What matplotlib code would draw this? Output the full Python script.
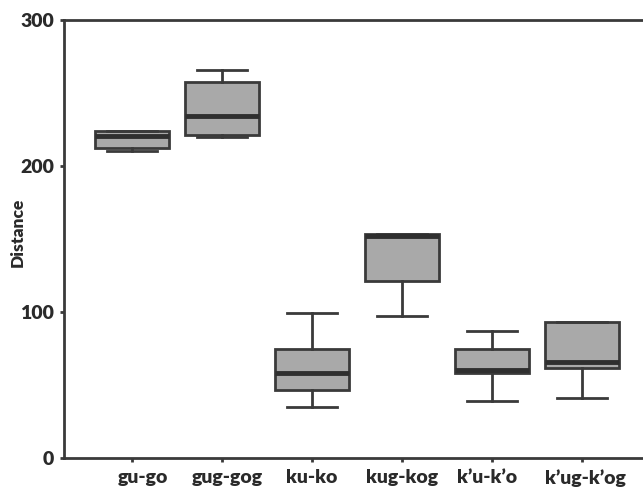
import matplotlib.pyplot as plt
import matplotlib.transforms as mtransforms

labels = ["gu-go", "gug-gog", "ku-ko", "kug-kog", "k\u2019u-k\u2019o", "k\u2019ug-k\u2019og"]
whis_lo = [210, 220, 35, 97, 39, 41]
q1 = [212, 221, 46.5, 121, 58, 61.5]
med = [220.5, 234, 58.5, 152, 60, 66]
q3 = [224, 257.5, 74.5, 153.5, 74.5, 93]
whis_hi = [224, 266, 99, 153.5, 87, 93]

plt.rcParams['font.family'] = ['Lato', 'DejaVu Sans']
plt.rcParams['font.weight'] = 'heavy'

fig = plt.figure(figsize=(6.43, 4.87), dpi=100)
ax = fig.add_axes([0.0995, 0.0595, 0.9005, 0.8995])

stats = []
for i in range(len(labels)):
    stats.append({'label': labels[i], 'whislo': whis_lo[i], 'q1': q1[i],
                  'med': med[i], 'q3': q3[i], 'whishi': whis_hi[i], 'fliers': []})

ax.bxp(stats, positions=range(1, 7), widths=0.82, patch_artist=True,
       showfliers=False,
       boxprops=dict(facecolor='#a9a9a9', edgecolor='#3a3a3a', linewidth=2),
       medianprops=dict(color='#2f2f2f', linewidth=3.5),
       whiskerprops=dict(color='#3a3a3a', linewidth=2),
       capprops=dict(color='#3a3a3a', linewidth=2),
       capwidths=0.55)

ax.set_xlim(0.244, 6.68)
ax.set_ylim(0, 300)
ax.set_yticks([0, 100, 200, 300])
ax.set_ylabel('Distance', fontsize=12.5, fontweight='heavy', color='#2a2a2a')
ax.yaxis.set_label_coords(-0.066, 0.516)

for s in ['left', 'bottom', 'top']:
    ax.spines[s].set_color('#3a3a3a')
    ax.spines[s].set_linewidth(2)
ax.spines['right'].set_visible(False)

ax.tick_params(axis='both', length=3, width=2, color='#3a3a3a', labelsize=14,
               labelcolor='#2a2a2a')
ax.tick_params(axis='x', pad=5)
ax.tick_params(axis='y', pad=4)

# labels in the original sit a little off their ticks
shifts = [11, 5, 0, 0, -5, 4]
for lab, dx in zip(ax.get_xticklabels(), shifts):
    off = mtransforms.ScaledTranslation(dx / 100, 0, fig.dpi_scale_trans)
    lab.set_transform(lab.get_transform() + off)

fig.savefig('out.png', dpi=100)
